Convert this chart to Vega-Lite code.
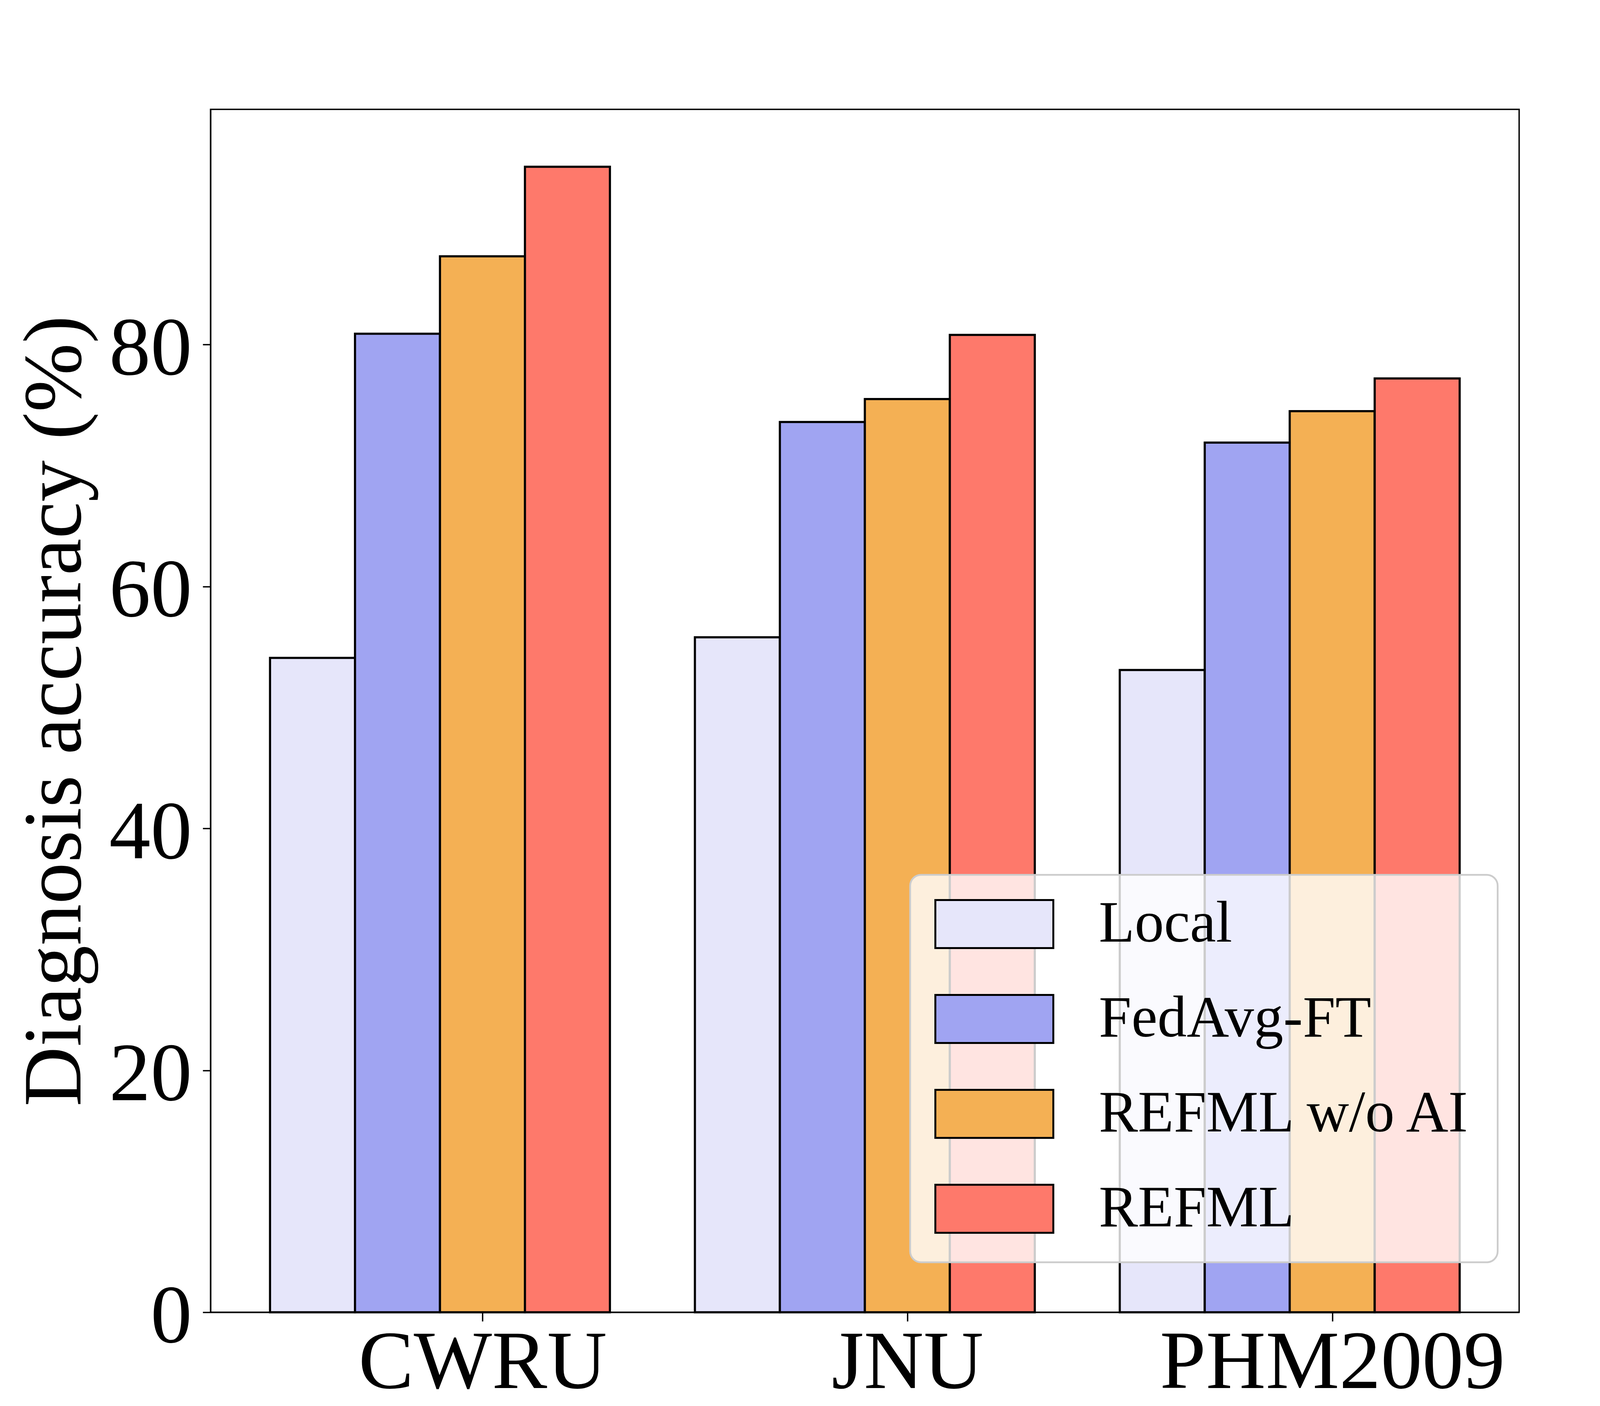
{
  "$schema": "https://vega.github.io/schema/vega-lite/v6.json",
  "width": 3350,
  "height": 3080,
  "autosize": "none",
  "padding": {"left": 539, "top": 280, "right": 216, "bottom": 240},
  "background": "white",
  "data": {
    "values": [
      {"dataset": "CWRU", "method": "Local", "accuracy": 54.1},
      {"dataset": "CWRU", "method": "FedAvg-FT", "accuracy": 80.9},
      {"dataset": "CWRU", "method": "REFML w/o AI", "accuracy": 87.3},
      {"dataset": "CWRU", "method": "REFML", "accuracy": 94.7},
      {"dataset": "JNU", "method": "Local", "accuracy": 55.8},
      {"dataset": "JNU", "method": "FedAvg-FT", "accuracy": 73.6},
      {"dataset": "JNU", "method": "REFML w/o AI", "accuracy": 75.5},
      {"dataset": "JNU", "method": "REFML", "accuracy": 80.8},
      {"dataset": "PHM2009", "method": "Local", "accuracy": 53.1},
      {"dataset": "PHM2009", "method": "FedAvg-FT", "accuracy": 71.9},
      {"dataset": "PHM2009", "method": "REFML w/o AI", "accuracy": 74.5},
      {"dataset": "PHM2009", "method": "REFML", "accuracy": 77.2}
    ]
  },
  "mark": {"type": "bar", "stroke": "black", "strokeWidth": 5.5},
  "encoding": {
    "x": {
      "field": "dataset",
      "type": "nominal",
      "sort": ["CWRU", "JNU", "PHM2009"],
      "scale": {"paddingInner": 0.2, "paddingOuter": 0.14},
      "axis": {
        "title": null,
        "labelAngle": 0,
        "tickOffset": 108.9,
        "tickSize": 23,
        "labelPadding": 3,
        "labelBaseline": "top"
      }
    },
    "xOffset": {
      "field": "method",
      "type": "nominal",
      "sort": ["Local", "FedAvg-FT", "REFML w/o AI", "REFML"],
      "scale": {"paddingInner": 0, "paddingOuter": 0}
    },
    "y": {
      "field": "accuracy",
      "type": "quantitative",
      "scale": {"domain": [0, 99.45], "nice": false},
      "axis": {
        "title": "Diagnosis accuracy (%)",
        "values": [0, 20, 40, 60, 80],
        "tickSize": 20,
        "labelPadding": 28,
        "labelOffset": 12,
        "titlePadding": 89
      }
    },
    "color": {
      "field": "method",
      "type": "nominal",
      "sort": ["Local", "FedAvg-FT", "REFML w/o AI", "REFML"],
      "scale": {
        "domain": ["Local", "FedAvg-FT", "REFML w/o AI", "REFML"],
        "range": ["#E6E6FA", "#A0A4F2", "#F4B054", "#FE796B"]
      },
      "legend": {
        "title": null,
        "orient": "none",
        "legendX": 1791,
        "legendY": 1960,
        "symbolType": "M-1,-0.407H1V0.407H-1Z",
        "symbolSize": 91204,
        "symbolStrokeColor": "black",
        "symbolStrokeWidth": 5,
        "symbolOpacity": 1,
        "clipHeight": 128,
        "labelFont": "Liberation Serif",
        "labelFontSize": 150,
        "labelColor": "black",
        "labelLimit": 0,
        "labelOffset": 114,
        "rowPadding": 93,
        "padding": 62,
        "fillColor": "rgba(255,255,255,0.8)",
        "strokeColor": "#cccccc",
        "cornerRadius": 28,
        "encode": {
          "legend": {"update": {"strokeWidth": {"value": 4.5}}}
        }
      }
    }
  },
  "config": {
    "view": {"stroke": "black", "strokeWidth": 3.5},
    "axis": {
      "grid": false,
      "domainColor": "black",
      "domainWidth": 3.5,
      "tickColor": "black",
      "tickWidth": 3.5,
      "labelFont": "Liberation Serif",
      "labelFontSize": 212,
      "labelLimit": 0,
      "labelColor": "black",
      "titleFont": "Liberation Serif",
      "titleFontSize": 212,
      "titleFontWeight": "normal",
      "titleColor": "black"
    }
  }
}
